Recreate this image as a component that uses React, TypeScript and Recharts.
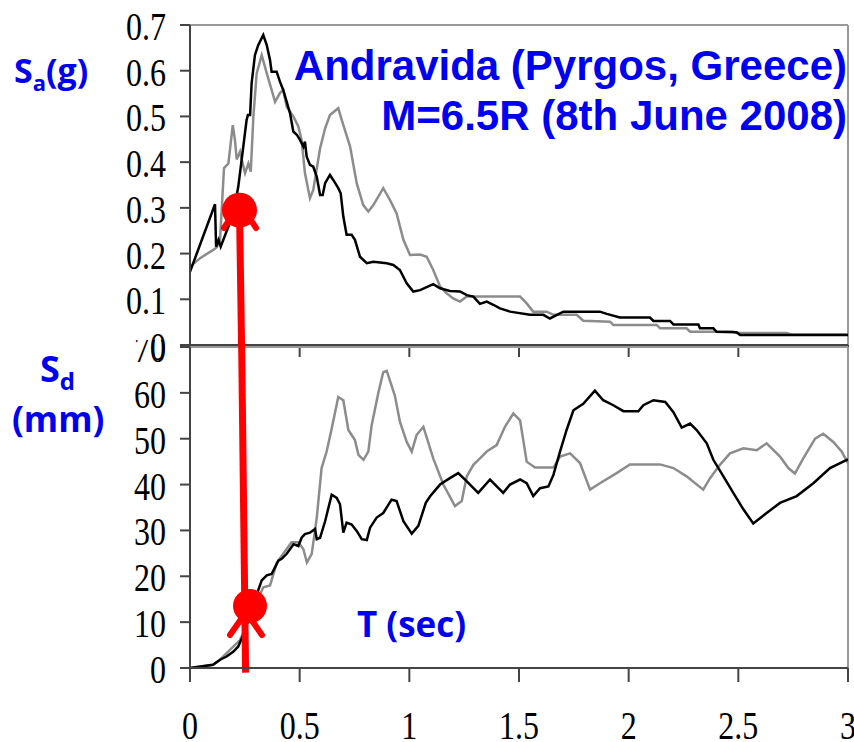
import { LineChart, Line, XAxis, YAxis, ReferenceLine, ReferenceDot } from 'recharts';

// Response spectra, Andravida record (two components)
const saBlackT = [0, 0.114, 0.119, 0.13, 0.14, 0.198, 0.22, 0.243, 0.258, 0.264, 0.274, 0.281, 0.296, 0.311, 0.334, 0.35, 0.365, 0.372, 0.395, 0.41, 0.425, 0.441, 0.456, 0.471, 0.487, 0.502, 0.517, 0.524, 0.532, 0.547, 0.562, 0.578, 0.593, 0.605, 0.616, 0.638, 0.653, 0.676, 0.687, 0.699, 0.714, 0.737, 0.752, 0.775, 0.806, 0.836, 0.897, 0.927, 0.957, 0.988, 1.018, 1.049, 1.109, 1.14, 1.185, 1.231, 1.262, 1.292, 1.322, 1.353, 1.383, 1.413, 1.459, 1.55, 1.611, 1.641, 1.702, 1.869, 1.9, 1.96, 2.097, 2.113, 2.189, 2.204, 2.318, 2.325, 2.386, 2.401, 2.492, 2.508, 2.72, 3.0];
const saBlackV = [0.16, 0.308, 0.215, 0.23, 0.215, 0.288, 0.346, 0.434, 0.492, 0.503, 0.503, 0.573, 0.634, 0.656, 0.678, 0.656, 0.623, 0.598, 0.598, 0.576, 0.558, 0.532, 0.507, 0.467, 0.46, 0.448, 0.434, 0.445, 0.412, 0.394, 0.39, 0.368, 0.328, 0.328, 0.354, 0.372, 0.361, 0.343, 0.332, 0.281, 0.241, 0.241, 0.23, 0.193, 0.179, 0.182, 0.179, 0.175, 0.164, 0.135, 0.117, 0.12, 0.133, 0.124, 0.118, 0.117, 0.109, 0.106, 0.09, 0.095, 0.088, 0.08, 0.073, 0.066, 0.066, 0.058, 0.073, 0.073, 0.068, 0.06, 0.06, 0.0525, 0.0525, 0.045, 0.045, 0.0365, 0.0365, 0.029, 0.028, 0.022, 0.022, 0.022];

const saGrayT = [0, 0.046, 0.106, 0.122, 0.137, 0.155, 0.175, 0.195, 0.205, 0.213, 0.228, 0.236, 0.251, 0.266, 0.277, 0.289, 0.304, 0.327, 0.35, 0.372, 0.388, 0.41, 0.425, 0.441, 0.471, 0.494, 0.509, 0.524, 0.547, 0.562, 0.593, 0.616, 0.638, 0.676, 0.692, 0.73, 0.76, 0.79, 0.813, 0.836, 0.881, 0.912, 0.942, 0.973, 1.003, 1.049, 1.079, 1.109, 1.14, 1.17, 1.2, 1.231, 1.262, 1.505, 1.535, 1.565, 1.626, 1.657, 1.763, 1.793, 1.915, 1.93, 2.128, 2.143, 2.264, 2.28, 2.477, 2.492, 2.72, 2.74, 3.0];
const saGrayV = [0.171, 0.19, 0.208, 0.214, 0.23, 0.387, 0.397, 0.481, 0.448, 0.406, 0.423, 0.405, 0.376, 0.397, 0.379, 0.5, 0.594, 0.634, 0.594, 0.558, 0.532, 0.551, 0.558, 0.521, 0.5, 0.478, 0.448, 0.376, 0.321, 0.339, 0.43, 0.474, 0.503, 0.518, 0.492, 0.434, 0.354, 0.306, 0.292, 0.306, 0.343, 0.317, 0.288, 0.23, 0.197, 0.198, 0.193, 0.164, 0.128, 0.113, 0.102, 0.095, 0.106, 0.106, 0.091, 0.073, 0.073, 0.066, 0.066, 0.053, 0.051, 0.044, 0.044, 0.0365, 0.0365, 0.029, 0.029, 0.026, 0.026, 0.023, 0.023];

const sdBlackT = [0, 0.105, 0.137, 0.167, 0.198, 0.22, 0.243, 0.289, 0.327, 0.35, 0.372, 0.388, 0.403, 0.418, 0.441, 0.472, 0.494, 0.509, 0.524, 0.547, 0.57, 0.578, 0.593, 0.616, 0.646, 0.669, 0.684, 0.699, 0.714, 0.737, 0.76, 0.783, 0.806, 0.821, 0.851, 0.881, 0.919, 0.942, 0.973, 1.011, 1.041, 1.075, 1.094, 1.14, 1.185, 1.223, 1.262, 1.314, 1.368, 1.428, 1.459, 1.505, 1.535, 1.565, 1.596, 1.634, 1.657, 1.687, 1.717, 1.748, 1.793, 1.846, 1.884, 1.93, 1.976, 2.044, 2.067, 2.113, 2.167, 2.204, 2.242, 2.28, 2.31, 2.356, 2.386, 2.432, 2.477, 2.523, 2.568, 2.629, 2.69, 2.766, 2.842, 2.918, 2.978, 3.0];
const sdBlackV = [0, 0.7, 1.8, 2.5, 3.6, 4.7, 7.2, 14, 19.1, 20.2, 20.5, 22, 23.4, 23.8, 24.9, 27, 26.6, 28.4, 29.2, 29.5, 30.3, 28.1, 28.4, 32, 37.8, 37.1, 35.7, 29.5, 31.7, 31.3, 29.9, 28.1, 27.9, 30.6, 32.8, 33.8, 36.7, 36.4, 32, 29.3, 31, 36, 37.4, 40, 41.4, 42.5, 40.7, 38.2, 41.1, 38.2, 40, 41.1, 40.3, 37.5, 39.2, 39.6, 42.1, 47.2, 51.9, 56.2, 57.6, 60.5, 58.4, 57.3, 56, 56, 57.3, 58.4, 58, 55.8, 52.4, 53.3, 51.9, 49, 45.4, 41.8, 38.2, 34.6, 31.5, 33.8, 36, 37.5, 40.3, 43.6, 45, 45.5];

const sdGrayT = [0, 0.105, 0.137, 0.182, 0.228, 0.334, 0.365, 0.396, 0.425, 0.463, 0.494, 0.517, 0.533, 0.555, 0.578, 0.6, 0.623, 0.646, 0.676, 0.699, 0.722, 0.752, 0.768, 0.791, 0.813, 0.828, 0.859, 0.881, 0.897, 0.934, 0.957, 0.988, 1.011, 1.033, 1.064, 1.109, 1.155, 1.208, 1.239, 1.262, 1.292, 1.322, 1.353, 1.398, 1.436, 1.474, 1.505, 1.535, 1.573, 1.657, 1.687, 1.733, 1.778, 1.824, 1.869, 1.945, 2.006, 2.143, 2.204, 2.264, 2.34, 2.371, 2.416, 2.462, 2.523, 2.584, 2.629, 2.69, 2.728, 2.758, 2.796, 2.85, 2.887, 2.933, 2.971, 3.0];
const sdGrayV = [0, 0.7, 1.8, 3.96, 6.1, 17.6, 18, 23, 24.9, 27.4, 27.4, 25.9, 23, 24.9, 32.8, 43.6, 47.2, 52.2, 59.1, 58.4, 51.9, 49.7, 46.5, 45.4, 47.2, 52.9, 60.1, 64.5, 64.8, 59.4, 53.7, 49.3, 47.2, 50.8, 52.6, 45.7, 40, 35.3, 36.4, 41.8, 44.3, 45.7, 47.2, 48.6, 52.6, 55.5, 54, 45, 43.7, 43.7, 46.1, 46.8, 44.7, 38.9, 40.3, 42.5, 44.4, 44.4, 43.6, 41.8, 38.9, 41.4, 44.3, 46.8, 47.9, 47.5, 49, 46.1, 43.6, 42.4, 45.7, 50, 51.1, 49.3, 47.2, 44.7];

const periodTicks = [0, 0.5, 1, 1.5, 2, 2.5, 3];
const saTicks = [0, 0.1, 0.2, 0.3, 0.4, 0.5, 0.6, 0.7];
const sdTicks = [0, 10, 20, 30, 40, 50, 60, 70];

// red arrow: period / Sa / Sd points of the annotation
const saPoint = { t: 0.2257, v: 0.295 };
const sdPoint = { t: 0.2736, v: 13.5 };

const toPoints = (ts: number[], vs: number[]) => ts.map((t, i) => ({ t, v: vs[i] }));

const SERIF = '"Liberation Serif", "Times New Roman", serif';
const LABEL = '"Open Sans", sans-serif';
const BLUE = '#0000f0';
const RED = '#ff0000';
const AXIS = '#444';
const BORDER = '#999';

const YTick = ({ x, y, payload }: any) => (
    <g transform={`translate(${x},${y})`}>
        <text textAnchor="end" transform="scale(0.8,1)" dy={15} fontFamily={SERIF} fontSize={40} fill="#000">
            {payload.value}
        </text>
    </g>
);

const XTick = ({ x, y, payload }: any) => (
    <g transform={`translate(${x},${y})`}>
        <text textAnchor="middle" transform="scale(0.8,1)" dy={55} fontFamily={SERIF} fontSize={40} fill="#000">
            {payload.value}
        </text>
    </g>
);

const NoTick = () => <g />;

export default function App() {
    return (
        <div style={{ position: 'absolute', left: 0, top: 0, width: 854, height: 742, background: '#fff' }}>
            <div style={{ position: 'absolute', left: 0, top: 0 }}>
                <LineChart width={854} height={360} margin={{ top: 25, right: 6, bottom: 0, left: 0 }}>
                    <XAxis dataKey="t" type="number" domain={[0, 3]} ticks={periodTicks} interval={0}
                        height={15} tickSize={12} tick={NoTick} stroke={AXIS} strokeWidth={2} allowDataOverflow />
                    <YAxis type="number" domain={[0, 0.7]} ticks={saTicks} interval={0} width={190}
                        tickSize={10} tickMargin={14} tick={YTick} stroke={AXIS} strokeWidth={2} />
                    <ReferenceLine y={0.7} stroke={BORDER} strokeWidth={2} ifOverflow="visible" />
                    <ReferenceLine x={3} stroke={BORDER} strokeWidth={2} ifOverflow="visible" />
                    <Line data={toPoints(saGrayT, saGrayV)} dataKey="v" type="linear" stroke="#8c8c8c"
                        strokeWidth={2.5} dot={false} isAnimationActive={false} />
                    <Line data={toPoints(saBlackT, saBlackV)} dataKey="v" type="linear" stroke="#000"
                        strokeWidth={2.5} dot={false} isAnimationActive={false} />
                    <ReferenceLine segment={[{ x: 0.2353, y: -0.006 }, { x: saPoint.t, y: saPoint.v }]}
                        stroke={RED} strokeWidth={7} ifOverflow="visible" />
                    <ReferenceLine segment={[{ x: 0.228, y: 0.31 }, { x: 0.155, y: 0.256 }]}
                        stroke={RED} strokeWidth={6} strokeLinecap="round" ifOverflow="visible" />
                    <ReferenceLine segment={[{ x: 0.228, y: 0.31 }, { x: 0.301, y: 0.256 }]}
                        stroke={RED} strokeWidth={6} strokeLinecap="round" ifOverflow="visible" />
                    <ReferenceDot x={saPoint.t} y={saPoint.v} r={17.5} fill={RED} stroke="none" ifOverflow="visible" />
                </LineChart>
            </div>
            <div style={{ position: 'absolute', left: 0, top: 340 }}>
                <LineChart width={854} height={402} margin={{ top: 7, right: 6, bottom: 0, left: 0 }}>
                    <XAxis dataKey="t" type="number" domain={[0, 3]} ticks={periodTicks} interval={0}
                        height={74} tickSize={14} tick={XTick} stroke={AXIS} strokeWidth={2} allowDataOverflow />
                    <YAxis type="number" domain={[0, 70]} ticks={sdTicks} interval={0} width={190}
                        tickSize={10} tickMargin={14} tick={YTick} stroke={AXIS} strokeWidth={2} />
                    <ReferenceLine y={70} stroke={BORDER} strokeWidth={2} ifOverflow="visible" />
                    <ReferenceLine x={3} stroke={BORDER} strokeWidth={2} ifOverflow="visible" />
                    <Line data={toPoints(sdGrayT, sdGrayV)} dataKey="v" type="linear" stroke="#8c8c8c"
                        strokeWidth={2.5} dot={false} isAnimationActive={false} />
                    <Line data={toPoints(sdBlackT, sdBlackV)} dataKey="v" type="linear" stroke="#000"
                        strokeWidth={2.5} dot={false} isAnimationActive={false} />
                    <ReferenceLine segment={[{ x: 0.2535, y: -1 }, { x: 0.2353, y: 71 }]}
                        stroke={RED} strokeWidth={7} ifOverflow="visible" />
                    <ReferenceLine segment={[{ x: 0.2553, y: 12.2 }, { x: 0.1824, y: 7.2 }]}
                        stroke={RED} strokeWidth={6} strokeLinecap="round" ifOverflow="visible" />
                    <ReferenceLine segment={[{ x: 0.2553, y: 12.2 }, { x: 0.328, y: 7.2 }]}
                        stroke={RED} strokeWidth={6} strokeLinecap="round" ifOverflow="visible" />
                    <ReferenceDot x={sdPoint.t} y={sdPoint.v} r={17} fill={RED} stroke="none" ifOverflow="visible" />
                </LineChart>
            </div>
            <svg width={854} height={742} style={{ position: 'absolute', left: 0, top: 0, pointerEvents: 'none' }}>
                <g fontFamily='"Liberation Sans", Arial, sans-serif' fontWeight="bold" fontSize={42} fill={BLUE} textAnchor="end">
                    <text x={847} y={80}>Andravida (Pyrgos, Greece)</text>
                    <text x={847} y={130}>M=6.5R (8th June 2008)</text>
                </g>
                <g fontFamily={LABEL} fontWeight="bold" fill={BLUE}>
                    <text x={14} y={83} fontSize={34}>
                        S<tspan fontSize={22} dy={8}>a</tspan><tspan dy={-8}>(g)</tspan>
                    </text>
                    <text x={40} y={382} fontSize={36}>
                        S<tspan fontSize={24} dy={8}>d</tspan>
                    </text>
                    <text x={12} y={432} fontSize={35}>(mm)</text>
                    <text x={357} y={637} fontSize={35}>T (sec)</text>
                </g>
            </svg>
        </div>
    );
}
